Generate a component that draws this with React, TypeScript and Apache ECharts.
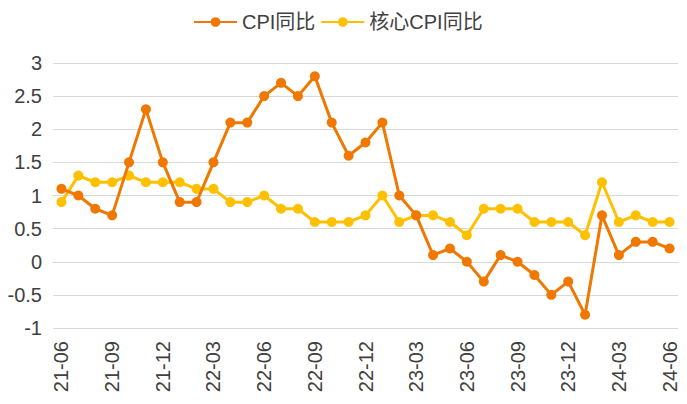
import React, { useEffect, useRef } from "react";
import * as echarts from "echarts";

const categories = [
  "21-06","21-07","21-08","21-09","21-10","21-11","21-12",
  "22-01","22-02","22-03","22-04","22-05","22-06","22-07","22-08","22-09","22-10","22-11","22-12",
  "23-01","23-02","23-03","23-04","23-05","23-06","23-07","23-08","23-09","23-10","23-11","23-12",
  "24-01","24-02","24-03","24-04","24-05","24-06",
];

const cpi = [
  1.1, 1.0, 0.8, 0.7, 1.5, 2.3, 1.5,
  0.9, 0.9, 1.5, 2.1, 2.1, 2.5, 2.7, 2.5, 2.8, 2.1, 1.6, 1.8,
  2.1, 1.0, 0.7, 0.1, 0.2, 0.0, -0.3, 0.1, 0.0, -0.2, -0.5, -0.3,
  -0.8, 0.7, 0.1, 0.3, 0.3, 0.2,
];

const coreCpi = [
  0.9, 1.3, 1.2, 1.2, 1.3, 1.2, 1.2,
  1.2, 1.1, 1.1, 0.9, 0.9, 1.0, 0.8, 0.8, 0.6, 0.6, 0.6, 0.7,
  1.0, 0.6, 0.7, 0.7, 0.6, 0.4, 0.8, 0.8, 0.8, 0.6, 0.6, 0.6,
  0.4, 1.2, 0.6, 0.7, 0.6, 0.6,
];

const seriesNames = ["CPI同比", "核心CPI同比"];
const font = "Arial, 'Liberation Sans', 'Noto Sans CJK SC', sans-serif";
const orange = "#F07800";
const yellow = "#FFC000";

export default function App() {
  const ref = useRef<HTMLDivElement>(null);
  useEffect(() => {
    if (!ref.current) return;
    const chart = echarts.init(ref.current, null, { renderer: "svg" });
    chart.setOption({
      animation: false,
      textStyle: { fontFamily: font },
      legend: {
        top: 7,
        left: 188,
        itemWidth: 43,
        itemHeight: 12,
        itemGap: 5,
        textStyle: { fontSize: 20, color: "#404040", fontFamily: font },
        data: seriesNames,
      },
      grid: { left: 53, right: 9, top: 63, bottom: 76, containLabel: false },
      xAxis: {
        type: "category",
        data: categories,
        boundaryGap: true,
        axisLine: { show: true, lineStyle: { color: "#D9D9D9", width: 1 } },
        axisTick: { show: false },
        axisLabel: {
          interval: 2,
          rotate: 90,
          margin: 13,
          fontSize: 20,
          color: "#404040",
          fontFamily: font,
        },
      },
      yAxis: {
        type: "value",
        min: -1,
        max: 3,
        interval: 0.5,
        axisLine: { show: false },
        axisTick: { show: false },
        splitLine: { lineStyle: { color: "#D9D9D9", width: 1 } },
        axisLabel: { fontSize: 20, color: "#404040", margin: 11, fontFamily: font },
      },
      series: [
        {
          name: seriesNames[0],
          type: "line",
          data: cpi,
          symbol: "circle",
          symbolSize: 10,
          lineStyle: { color: orange, width: 3 },
          itemStyle: { color: orange },
          z: 3,
        },
        {
          name: seriesNames[1],
          type: "line",
          data: coreCpi,
          symbol: "circle",
          symbolSize: 10,
          lineStyle: { color: yellow, width: 3 },
          itemStyle: { color: yellow },
          z: 2,
        },
      ],
    });
    return () => chart.dispose();
  }, []);
  return <div ref={ref} style={{ width: 687, height: 404, position: "absolute", left: 0, top: 0 }} />;
}
